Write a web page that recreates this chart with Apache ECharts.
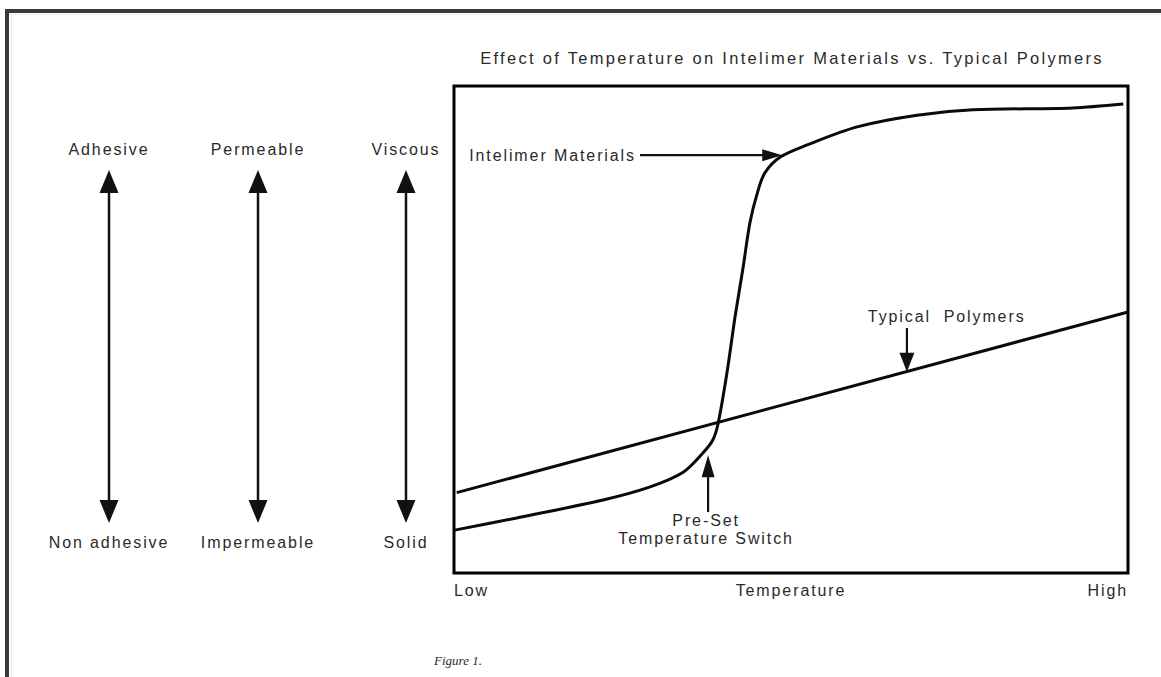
<!DOCTYPE html>
<html><head><meta charset="utf-8">
<script src="https://cdn.jsdelivr.net/npm/echarts@6/dist/echarts.min.js"></script>
<style>
html,body{margin:0;padding:0;background:#fff}
#c{width:1161px;height:677px;letter-spacing:1.9px}
#c text[style*="16.5px"]{letter-spacing:2.3px}
#c text[style*="italic"]{letter-spacing:0}
</style>
</head><body><div id="c"></div><script>
// ---- data ----
const titleText = 'Effect of Temperature on Intelimer Materials vs. Typical Polymers';
const xTickValues = [0, 50, 100];
const xTickLabels = ['Low', 'Temperature', 'High'];
const intelimerX = [0.1, 9.3, 22.1, 29.1, 34.0, 36.9, 38.4, 39.2, 40.5, 41.7, 42.9, 43.9, 45.0, 46.1, 48.4, 52.4, 59.8, 68.7, 77.0, 91.8, 99.3];
const intelimerY = [8.8, 11.3, 15.0, 17.7, 20.7, 24.6, 27.3, 30.8, 41.1, 52.6, 62.8, 71.9, 78.0, 82.1, 85.4, 87.9, 91.6, 94.0, 95.1, 95.5, 96.3];
const typicalX = [0.4, 100];
const typicalY = [16.5, 53.6];
const scaleTopLabels = ['Adhesive', 'Permeable', 'Viscous'];
const scaleBottomLabels = ['Non adhesive', 'Impermeable', 'Solid'];
const annotationTexts = ['Intelimer Materials', 'Typical  Polymers', 'Pre-Set\nTemperature Switch'];
const annotationAnchors = [[27.0, 85.8], [73.1, 52.6], [37.4, 9.0]];
const arrowFrom = [[27.6, 85.8], [67.2, 50.3], [37.7, 12.5]];
const arrowTo = [[48.7, 85.8], [67.2, 41.3], [37.7, 24.2]];
const figureCaption = 'Figure 1.';

// ---- chart ----
const FONT = '"Liberation Sans", Arial, Helvetica, sans-serif';
const TXT = '#2a2a2a';
const chart = echarts.init(document.getElementById('c'), null, {renderer: 'svg'});
const pairs = (xs, ys) => xs.map((x, i) => [x, ys[i]]);

chart.setOption({
  animation: false,
  backgroundColor: '#fff',
  grid: {left: 454, right: 33, top: 86, bottom: 104, show: true, borderColor: '#000', borderWidth: 3, backgroundColor: 'transparent'},
  xAxis: {
    type: 'value', min: 0, max: 100, interval: 50,
    axisLine: {show: false}, axisTick: {show: false}, splitLine: {show: false},
    axisLabel: {
      margin: 9, fontSize: 16, color: TXT, fontFamily: FONT,
      alignMinLabel: 'left', alignMaxLabel: 'right',
      formatter: v => { const i = xTickValues.indexOf(v); return i >= 0 ? xTickLabels[i] : ''; }
    }
  },
  yAxis: {type: 'value', min: 0, max: 100, show: false, splitLine: {show: false}},
  series: [
    {name: 'Intelimer Materials', type: 'line', data: pairs(intelimerX, intelimerY), showSymbol: false, smooth: 0.3,
     lineStyle: {color: '#0a0a0a', width: 3}, silent: true, z: 5},
    {name: 'Typical Polymers', type: 'line', data: pairs(typicalX, typicalY), showSymbol: false,
     lineStyle: {color: '#0a0a0a', width: 3}, silent: true, z: 5}
  ]
});

function arrow(p1, p2, headLen, headW, lw) {
  const dx = p2[0] - p1[0], dy = p2[1] - p1[1];
  const L = Math.hypot(dx, dy); const ux = dx / L, uy = dy / L;
  const bx = p2[0] - ux * headLen, by = p2[1] - uy * headLen;
  const nx = -uy * headW / 2, ny = ux * headW / 2;
  return [
    {type: 'line', shape: {x1: p1[0], y1: p1[1], x2: bx + ux * 2, y2: by + uy * 2}, style: {stroke: '#111', lineWidth: lw}, silent: true, z: 10},
    {type: 'polygon', shape: {points: [[p2[0], p2[1]], [bx + nx, by + ny], [bx - nx, by - ny]]}, style: {fill: '#111'}, silent: true, z: 10}
  ];
}

const g = [];
// outer frame
g.push({type: 'rect', shape: {x: 5, y: 9, width: 1156, height: 4}, style: {fill: '#3a3a3a'}, silent: true});
g.push({type: 'rect', shape: {x: 5, y: 9, width: 4, height: 668}, style: {fill: '#3a3a3a'}, silent: true});
g.push({type: 'rect', shape: {x: 9, y: 14, width: 1152, height: 1}, style: {fill: '#ececec'}, silent: true});
g.push({type: 'rect', shape: {x: 11, y: 13, width: 1, height: 664}, style: {fill: '#ececec'}, silent: true});
// title
g.push({type: 'text', x: 792, y: 58, style: {text: titleText, font: '16.5px ' + FONT, fill: TXT, align: 'center', verticalAlign: 'middle'}, silent: true});
// left property scales
const colX = [109, 258, 406];
colX.forEach((x, i) => {
  g.push({type: 'text', x: x, y: 149, style: {text: scaleTopLabels[i], font: '16px ' + FONT, fill: TXT, align: 'center', verticalAlign: 'middle'}, silent: true});
  g.push({type: 'text', x: x, y: 542, style: {text: scaleBottomLabels[i], font: '16px ' + FONT, fill: TXT, align: 'center', verticalAlign: 'middle'}, silent: true});
  g.push(...arrow([x, 346], [x, 170], 23, 19, 2.5));
  g.push(...arrow([x, 346], [x, 523], 23, 19, 2.5));
});
// annotations in data space
const heads = [[20, 12], [19, 15], [22, 13]];
arrowFrom.forEach((a, i) => {
  const p1 = chart.convertToPixel({gridIndex: 0}, a);
  const p2 = chart.convertToPixel({gridIndex: 0}, arrowTo[i]);
  g.push(...arrow(p1, p2, heads[i][0], heads[i][1], 2.2));
});
const aligns = ['right', 'center', 'center'];
annotationTexts.forEach((t, i) => {
  const p = chart.convertToPixel({gridIndex: 0}, annotationAnchors[i]);
  g.push({type: 'text', x: p[0], y: p[1], style: {text: t, font: '16px ' + FONT, fill: TXT, align: aligns[i], verticalAlign: 'middle', lineHeight: 18}, silent: true, z: 10});
});
// caption
g.push({type: 'text', x: 434, y: 660, style: {text: figureCaption, font: 'italic 13px "Liberation Serif", "Times New Roman", serif', fill: TXT, align: 'left', verticalAlign: 'middle'}, silent: true});
chart.setOption({graphic: g});
</script></body></html>
